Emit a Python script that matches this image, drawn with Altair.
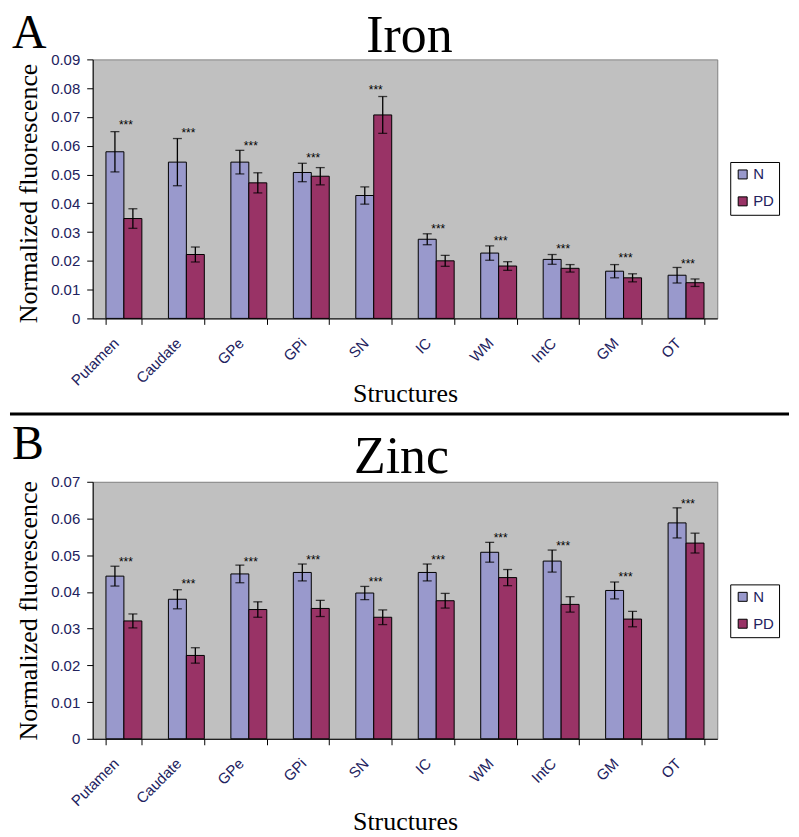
import altair as alt
import pandas as pd

structures = ["Putamen", "Caudate", "GPe", "GPi", "SN", "IC", "WM", "IntC", "GM", "OT"]
groups = ["N", "PD"]

iron_n = [0.0579, 0.0543, 0.0543, 0.0507, 0.0427, 0.0275, 0.0227, 0.0205, 0.0164, 0.0150]
iron_n_err = [0.0070, 0.0082, 0.0041, 0.0032, 0.0030, 0.0019, 0.0025, 0.0017, 0.0023, 0.0027]
iron_pd = [0.0347, 0.0222, 0.0471, 0.0494, 0.0707, 0.0200, 0.0182, 0.0174, 0.0141, 0.0124]
iron_pd_err = [0.0034, 0.0026, 0.0035, 0.0030, 0.0064, 0.0019, 0.0015, 0.0013, 0.0014, 0.0013]
iron_star = [0.0683, 0.0656, 0.0611, 0.0568, 0.0803, 0.0322, 0.0281, 0.0250, 0.0219, 0.0201]
iron_ticks = [0, 0.01, 0.02, 0.03, 0.04, 0.05, 0.06, 0.07, 0.08, 0.09]

zinc_n = [0.0443, 0.0380, 0.0449, 0.0453, 0.0397, 0.0453, 0.0508, 0.0484, 0.0404, 0.0588]
zinc_n_err = [0.0027, 0.0026, 0.0024, 0.0023, 0.0018, 0.0023, 0.0027, 0.0030, 0.0023, 0.0041]
zinc_pd = [0.0321, 0.0227, 0.0352, 0.0355, 0.0331, 0.0376, 0.0439, 0.0366, 0.0326, 0.0533]
zinc_pd_err = [0.0019, 0.0021, 0.0021, 0.0022, 0.0020, 0.0020, 0.0022, 0.0021, 0.0021, 0.0027]
zinc_star = [0.0490, 0.0429, 0.0490, 0.0495, 0.0436, 0.0495, 0.0554, 0.0533, 0.0448, 0.0648]
zinc_ticks = [0, 0.01, 0.02, 0.03, 0.04, 0.05, 0.06, 0.07]

SERIF = "Liberation Serif"
SANS = "Liberation Sans"
LABEL_COLOR = "#22225e"
W = 627


def make_df(n, n_err, pd_, pd_err):
    rows = []
    for i, s in enumerate(structures):
        for g, m, e in (("N", n[i], n_err[i]), ("PD", pd_[i], pd_err[i])):
            rows.append({"structure": s, "group": g, "mean": m, "lo": m - e, "hi": m + e})
    return pd.DataFrame(rows)


def panel(df, stars, ticks, ymax, height, title, title_x, title_y, letter, letter_y,
          xtitle_y, ytitle_y, separator_y=None):
    yscale = alt.Scale(domain=[0, ymax], nice=False, zero=True)
    yaxis = alt.Axis(values=ticks, grid=False, title="Normalized fluorescence",
                     labelExpr="datum.value == 0 ? '0' : format(datum.value, '.2f')",
                     tickSize=6, labelPadding=7, titleX=-56, titleY=ytitle_y,
                     titleAngle=-90, titleAlign="center", titleBaseline="alphabetic",
                     labelFont=SANS, labelFontSize=15, labelColor=LABEL_COLOR,
                     titleFont=SERIF, titleFontSize=26, titleFontWeight="normal",
                     titleColor="black", domainColor="black", tickColor="black")
    xscale = alt.Scale(paddingInner=0.425, paddingOuter=0.2125)
    xaxis = alt.Axis(title="Structures", labelAngle=-45, tickBand="extent", tickSize=6,
                     labelPadding=11, labelOffset=-13, titleX=W / 2, titleY=xtitle_y,
                     titleAlign="center", titleBaseline="alphabetic",
                     labelFont=SANS, labelFontSize=15, labelColor=LABEL_COLOR,
                     titleFont=SERIF, titleFontSize=26, titleFontWeight="normal",
                     titleColor="black", domainColor="black", tickColor="black")
    xenc = alt.X("structure:N", sort=structures, scale=xscale, axis=xaxis)
    xoff = alt.XOffset("group:N", sort=groups,
                       scale=alt.Scale(paddingInner=0, paddingOuter=0))

    base = alt.Chart(df)
    bars = base.mark_bar(stroke="black", strokeWidth=1).encode(
        x=xenc, xOffset=xoff,
        y=alt.Y("mean:Q", scale=yscale, axis=yaxis),
        color=alt.Color("group:N",
                        scale=alt.Scale(domain=groups, range=["#9999CC", "#993366"]),
                        legend=alt.Legend(title=None, orient="none", legendX=640, legendY=103,
                                          strokeColor="black", fillColor="white", padding=5,
                                          symbolType="square", symbolSize=81,
                                          symbolStrokeColor="black", symbolStrokeWidth=1,
                                          labelFont=SANS, labelFontSize=15,
                                          labelColor=LABEL_COLOR, rowPadding=11,
                                          labelOffset=3, cornerRadius=0)),
    )
    rule = base.mark_rule(color="black", strokeWidth=1.3).encode(
        x=xenc, xOffset=xoff,
        y=alt.Y("lo:Q", scale=yscale, axis=yaxis), y2="hi:Q")
    cap_hi = base.mark_tick(color="black", size=9, thickness=1.3).encode(
        x=xenc, xOffset=xoff, y=alt.Y("hi:Q", scale=yscale, axis=yaxis))
    cap_lo = base.mark_tick(color="black", size=9, thickness=1.3).encode(
        x=xenc, xOffset=xoff, y=alt.Y("lo:Q", scale=yscale, axis=yaxis))

    star_df = pd.DataFrame({"structure": structures, "star": stars, "label": ["***"] * len(structures)})
    star = alt.Chart(star_df).mark_text(font=SANS, fontSize=12, color="black",
                                        baseline="middle", dx=2, dy=3).encode(
        x=xenc, y=alt.Y("star:Q", scale=yscale, axis=yaxis), text="label:N")

    ttl = alt.Chart(pd.DataFrame({"t": [title]})).mark_text(
        font=SERIF, fontSize=52, align="center", baseline="alphabetic", color="black"
    ).encode(x=alt.value(title_x), y=alt.value(title_y), text="t:N")
    let = alt.Chart(pd.DataFrame({"t": [letter]})).mark_text(
        font=SERIF, fontSize=48, align="left", baseline="alphabetic", color="black"
    ).encode(x=alt.value(-81), y=alt.value(letter_y), text="t:N")

    layers = [bars, rule, cap_hi, cap_lo, star, ttl, let]
    if separator_y is not None:
        sep = alt.Chart(pd.DataFrame({"a": [0]})).mark_rule(color="black", strokeWidth=3).encode(
            x=alt.value(-83), x2=alt.value(699), y=alt.value(separator_y))
        layers.append(sep)
    return alt.layer(*layers).properties(width=W, height=height)


iron_df = make_df(iron_n, iron_n_err, iron_pd, iron_pd_err)
zinc_df = make_df(zinc_n, zinc_n_err, zinc_pd, zinc_pd_err)

pA = panel(iron_df, iron_star, iron_ticks, 0.09, 260, "Iron", 318, -7, "A", -11,
           83, 134, separator_y=356)
pB = panel(zinc_df, zinc_star, zinc_ticks, 0.07, 258, "Zinc", 310, -9, "B", -23,
           91, 129)

chart = alt.vconcat(pA, pB, spacing=164, bounds="flush").resolve_legend(
    color="independent"
).properties(padding=0, background="white").configure_view(
    fill="#C0C0C0", stroke="#808080", strokeWidth=1
)

chart.save("out.html", embed_options={"renderer": "svg", "actions": False})
